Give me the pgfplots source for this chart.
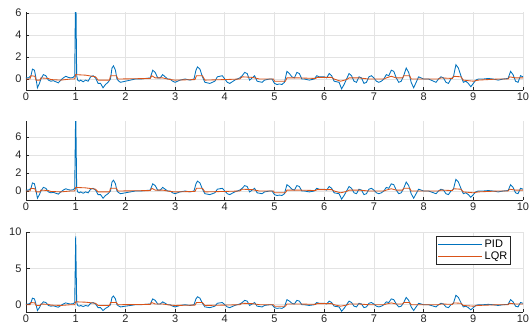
\documentclass[border=0pt]{standalone}
\usepackage{pgfplots}
\usepackage{pgfplotstable}
\pgfplotsset{compat=1.18}
\usepackage{fontspec}
\setmainfont{Liberation Sans}
\definecolor{mblue}{rgb}{0,0.447,0.741}
\definecolor{morange}{rgb}{0.85,0.325,0.098}
\definecolor{axgray}{rgb}{0.15,0.15,0.15}
\pgfplotstableread{
t v
0 0.1
0.05 0.1
0.1 0.3
0.13 0.9
0.17 0.8
0.2 0.1
0.23 -0.8
0.27 -0.4
0.3 0
0.35 0.4
0.4 0.3
0.45 -0.1
0.5 -0.2
0.55 -0.15
0.6 -0.25
0.65 -0.35
0.7 -0.1
0.75 0.1
0.8 0.25
0.85 0.15
0.9 0.1
0.95 0.15
0.98 0.3
1.0 9.4
1.02 0.3
1.04 -0.1
1.07 -0.2
1.1 -0.1
1.15 -0.25
1.2 -0.1
1.25 -0.2
1.3 0.2
1.35 0.3
1.4 0.1
1.45 -0.4
1.5 -0.4
1.55 -0.8
1.6 -0.5
1.65 -0.3
1.7 0
1.73 1.0
1.76 1.2
1.8 0.8
1.83 0
1.87 -0.2
1.9 -0.3
1.95 -0.25
2.0 -0.2
2.1 -0.1
2.2 0
2.3 0
2.4 0.05
2.5 0.1
2.55 0.8
2.6 0.6
2.65 0.1
2.7 0.1
2.75 0.4
2.8 0.2
2.85 0
2.9 0
2.95 -0.2
3.0 -0.3
3.05 -0.2
3.1 -0.1
3.2 0
3.3 -0.1
3.38 0
3.42 0.8
3.45 1.1
3.5 0.9
3.55 0.2
3.6 -0.3
3.7 -0.4
3.8 -0.2
3.85 0.2
3.95 0.3
4.0 0
4.05 -0.3
4.1 -0.4
4.2 -0.1
4.3 0.1
4.35 0.3
4.4 0.6
4.45 0.5
4.5 -0.1
4.6 0.3
4.65 -0.2
4.75 -0.3
4.8 -0.1
4.9 0
4.95 0
5.0 -0.4
5.05 -0.5
5.1 -0.45
5.15 -0.5
5.2 -0.3
5.25 0.7
5.3 0.5
5.35 0.2
5.4 0.1
5.45 0.6
5.5 0.5
5.55 0
5.6 0
5.7 -0.1
5.8 0
5.85 0.3
5.9 0.2
6.0 0.2
6.05 0.1
6.1 0.5
6.15 0.3
6.2 -0.2
6.3 -0.3
6.35 -0.9
6.4 -0.5
6.45 0
6.5 0.5
6.55 0.3
6.6 -0.2
6.65 -0.3
6.7 0.2
6.75 0.1
6.8 -0.4
6.85 -0.3
6.9 0.2
6.95 0.3
7.0 0.1
7.05 -0.2
7.1 -0.3
7.15 -0.2
7.2 0
7.25 0.4
7.3 0.3
7.35 0.8
7.4 0.7
7.45 0.1
7.5 -0.3
7.55 -0.2
7.6 0.3
7.65 1.0
7.7 0.6
7.75 -0.3
7.8 -0.8
7.85 -0.3
7.9 0.2
7.95 0.1
8.0 0
8.1 0
8.2 -0.2
8.25 -0.3
8.3 0
8.35 0.2
8.4 0.1
8.45 -0.3
8.5 -0.4
8.55 0
8.6 0.2
8.65 1.3
8.7 1.0
8.75 0.3
8.8 -0.3
8.85 -0.2
8.9 -0.4
8.95 -0.7
9.0 -0.4
9.05 -0.1
9.1 0
9.2 0
9.3 0.05
9.4 0
9.5 -0.1
9.6 0
9.7 0.05
9.75 0.7
9.8 0.4
9.85 -0.2
9.9 -0.3
9.95 0.3
10.0 0.2
}\pidtable
\pgfplotstableread{
t v
0 0
0.08 0
0.1 0.3
0.18 0.25
0.2 -0.1
0.28 -0.1
0.3 0.1
0.45 0.05
0.5 -0.05
0.7 -0.1
0.9 0
0.98 0
1.0 0.4
1.2 0.35
1.4 0.2
1.45 -0.1
1.68 -0.1
1.7 0.3
1.82 0.3
1.85 0
2.5 0.05
2.53 0.3
2.6 0.1
2.75 0.1
2.9 -0.05
3.0 -0.1
3.4 -0.05
3.43 0.3
3.55 0.3
3.6 -0.1
4.0 -0.05
4.3 0
4.35 0.2
4.55 0.15
4.7 0
4.98 0
5.0 -0.2
5.22 -0.2
5.25 0.1
5.5 0.1
5.83 0.05
5.85 0.15
6.15 0.15
6.2 0
6.33 -0.2
6.45 -0.05
6.5 0.1
6.7 0.1
6.9 0
7.2 0
7.25 0.1
7.35 0.25
7.45 0.1
7.58 0.1
7.6 0.3
7.72 0.3
7.75 0
8.3 0
8.35 0.1
8.58 0.05
8.6 0.25
8.75 0.2
8.8 -0.1
9.0 -0.2
9.1 -0.1
9.5 0
9.7 0
9.73 0.2
9.85 0.1
10 0.1
}\lqrtable
\pgfplotsset{
  mstyle/.style={
    scale only axis, width=497pt,
    xmin=0, xmax=10, xtick={0,1,...,10},
    axis x line*=bottom, axis y line*=left,
    axis line style={axgray, line width=0.6pt},
    tick style={axgray, line width=0.6pt},
    tick align=inside, major tick length=3.5pt,
    xmajorgrids, ymajorgrids,
    grid style={gray!22, line width=0.6pt},
    tick label style={font=\fontsize{11}{12}\selectfont, text=axgray},
    /pgf/number format/assume math mode=true,
    xticklabel style={yshift=1pt},
    yticklabel style={xshift=-1pt},
    clip=true,
  },
  pidline/.style={mblue, line width=0.85pt},
  lqrline/.style={morange, line width=0.85pt},
}
\begin{document}
\begin{tikzpicture}
\useasboundingbox (-26pt,-13pt) rectangle (505pt,312pt);
\begin{axis}[mstyle, at={(0pt,222pt)}, anchor=south west, height=78pt,
  ymin=-1, ymax=6.1, ytick={0,2,4,6}]
\addplot[pidline] table[x=t,y=v] {\pidtable};
\addplot[lqrline] table[x=t,y=v] {\lqrtable};
\end{axis}
\begin{axis}[mstyle, at={(0pt,112pt)}, anchor=south west, height=79pt,
  ymin=-1, ymax=7.78, ytick={0,2,4,6}]
\addplot[pidline] table[x=t,y=v] {\pidtable};
\addplot[lqrline] table[x=t,y=v] {\lqrtable};
\end{axis}
\begin{axis}[mstyle, at={(0pt,0pt)}, anchor=south west, height=80pt,
  ymin=-1, ymax=10, ytick={0,5,10},
  legend style={at={(0.976,0.95)}, anchor=north east, draw=axgray, line width=0.6pt,
    font=\fontsize{11}{12}\selectfont, inner sep=1.5pt, row sep=-1.5pt,
    legend cell align=left},
  legend image code/.code={\draw[#1, line width=0.85pt] (0pt,0pt) -- (44pt,0pt);}]
\addplot[pidline] table[x=t,y=v] {\pidtable};
\addlegendentry{PID}
\addplot[lqrline] table[x=t,y=v] {\lqrtable};
\addlegendentry{LQR}
\end{axis}
\end{tikzpicture}
\end{document}
